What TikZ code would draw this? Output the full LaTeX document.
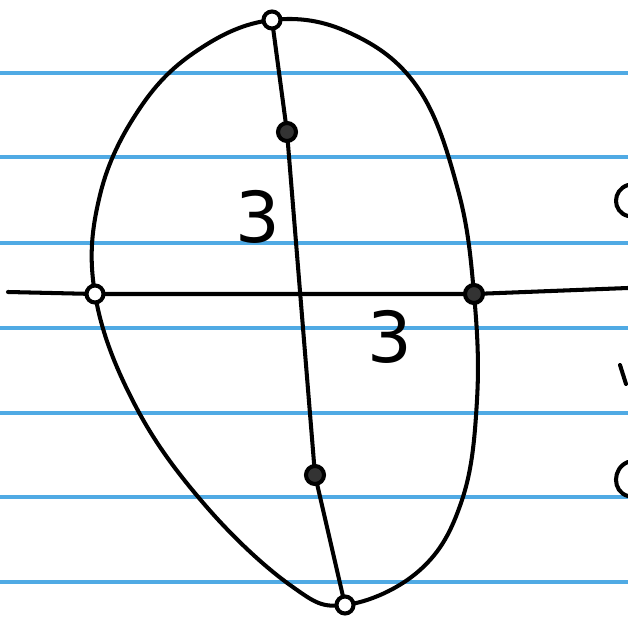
\documentclass[tikz,border=0pt]{standalone}
\usepackage{fontspec}
\setmainfont{DejaVu Sans}
\usetikzlibrary{positioning}

\definecolor{ruleblue}{RGB}{80,170,228}

\begin{document}
\begin{tikzpicture}[
    x=0.2mm, y=-0.2mm,
    ink/.style={line width=2.3pt, line cap=round, line join=round},
    rule/.style={ruleblue, line width=1.9pt},
    hole/.style={circle, draw, line width=2.3pt, fill=white, inner sep=0pt, minimum size=3.4mm},
    blob/.style={circle, draw, line width=2.3pt, fill=black!80, inner sep=0pt, minimum size=3.6mm},
    num/.style={font=\fontsize{40}{40}\selectfont, inner sep=0pt},
  ]
  \useasboundingbox (0,0) rectangle (628,623);
  \fill[white] (0,0) rectangle (628,623);

  % ruled paper
  \foreach \yy in {73,157,243,328,413,497,582}
    \draw[rule] (0,\yy) -- (628,\yy);

  % points on the curve and the axes
  \coordinate (top) at (272,20);
  \coordinate (upper) at (287,132);
  \coordinate (left) at (95,294);
  \coordinate (right) at (474,294);
  \coordinate (lower) at (315,475);
  \coordinate (bottom) at (345,605);
  \coordinate (west) at (8,292);
  \coordinate (east) at (628,288);

  % closed curve
  \draw[ink] plot[smooth cycle, tension=0.65] coordinates {
    (top) (350,33) (418,88) (458,190) (right) (477,400) (462,500)
    (420,570) (bottom) (290,585) (205,505) (135,405) (left)
    (100,195) (140,108) (198,50)};

  % axes
  \draw[ink] (west) -- (left) -- (right) -- (east);
  \draw[ink] (top) -- (upper) -- (lower) -- (bottom);

  % marked points
  \node[hole] (ntop) at (top) {};
  \node[blob] (nupper) at (upper) {};
  \node[hole] (nleft) at (left) {};
  \node[blob] (nright) at (right) {};
  \node[blob] (nlower) at (lower) {};
  \node[hole] (nbottom) at (bottom) {};

  % labels
  \node[num] (lblv) at (258,217) {3};
  \node[num] (lblh) at (390,337) {3};

  % cut-off writing at the right edge
  \draw[ink] (628,185) .. controls (612,190) and (612,212) .. (628,216);
  \draw[ink] (620,365) -- (626,384);
  \draw[ink] (628,462) .. controls (612,468) and (612,492) .. (628,496);
\end{tikzpicture}
\end{document}
